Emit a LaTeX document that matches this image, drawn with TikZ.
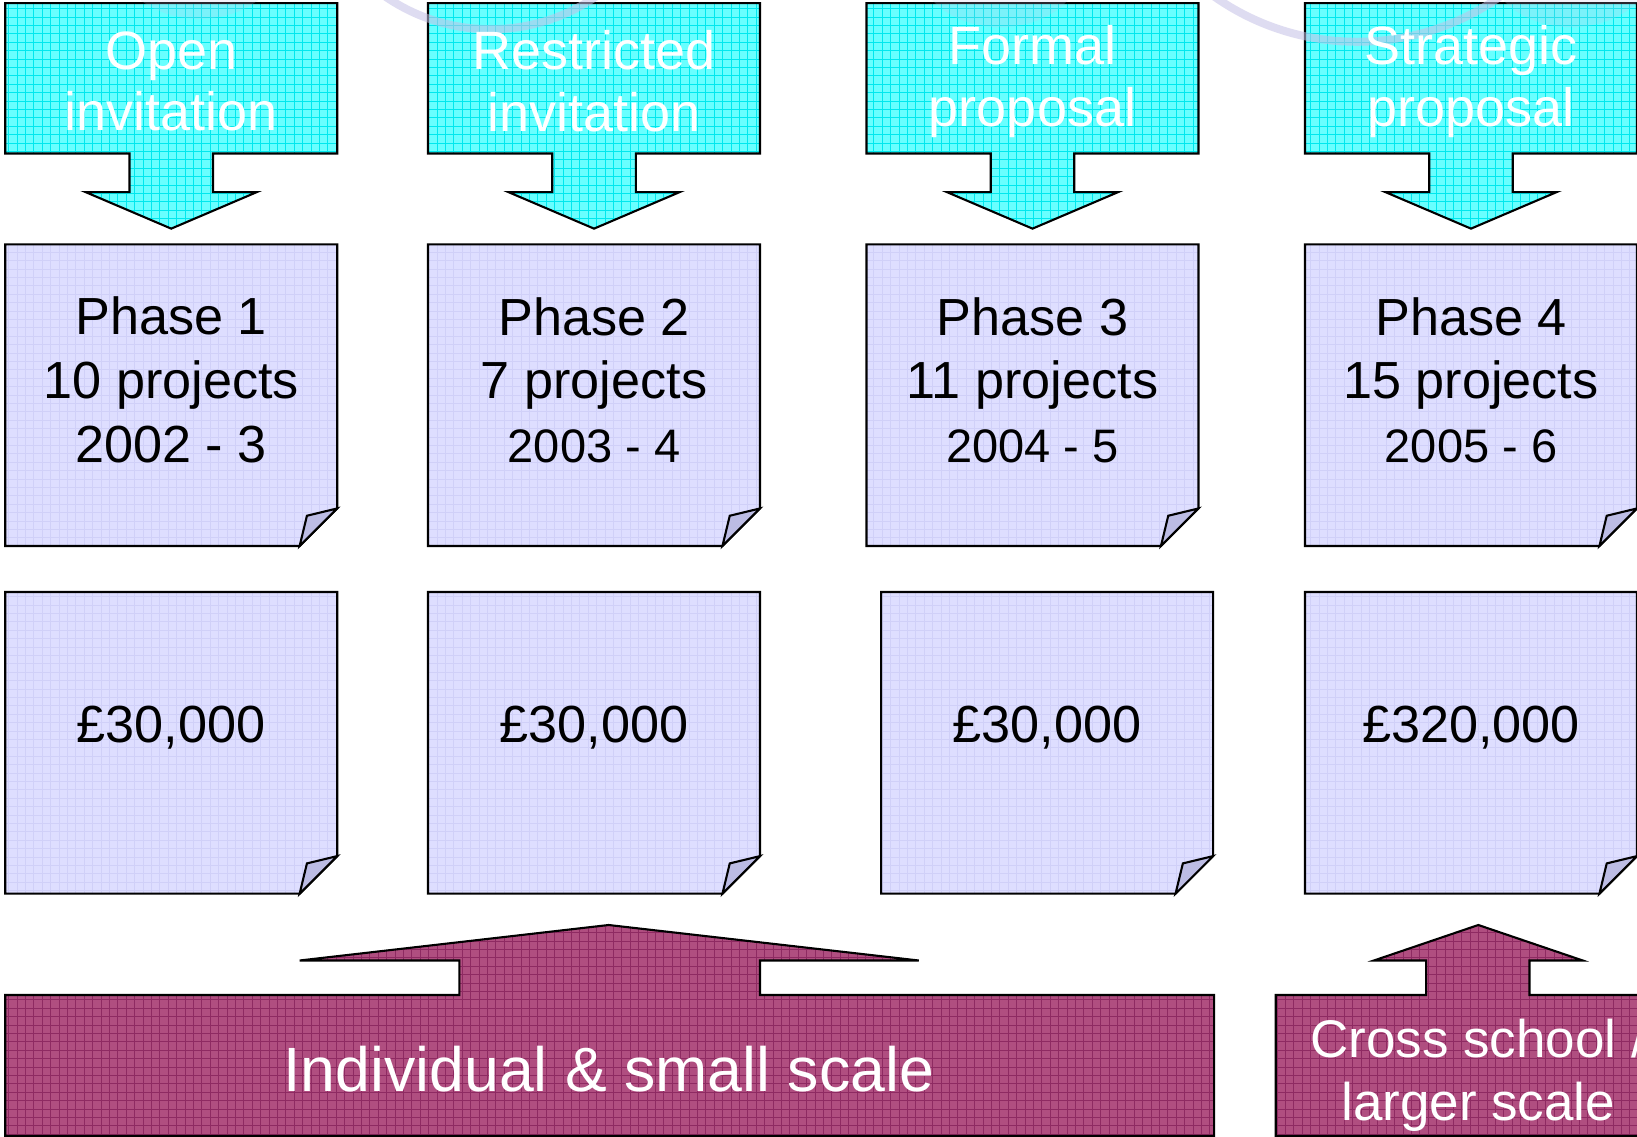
\documentclass[tikz,border=0pt]{standalone}
\usepackage{fontspec}
\setmainfont{Liberation Sans}
\definecolor{cyanfill}{RGB}{105,255,255}
\definecolor{cyangrid}{RGB}{0,232,238}
\definecolor{lavfill}{RGB}{222,222,255}
\definecolor{lavgrid}{RGB}{208,208,248}
\definecolor{lavfold}{RGB}{188,188,228}
\definecolor{magfill}{RGB}{176,78,128}
\definecolor{maggrid}{RGB}{142,42,98}
\definecolor{ringcol}{RGB}{196,192,230}
\newcommand{\dcallout}[1]{%
  \path[cyanshape] (#1-159,3) -- (#1+159,3) -- (#1+159,147) -- (#1+40,147) -- (#1+40,184) -- (#1+82,184) -- (#1,219) -- (#1-82,184) -- (#1-40,184) -- (#1-40,147) -- (#1-159,147) -- cycle;}
\newcommand{\phasebox}[3]{%
  \path[lavshape] (#1,#2) -- (#1+318,#2) -- (#1+318,#3-36) -- (#1+282,#3) -- (#1,#3) -- cycle;
  \path[foldshape] (#1+282,#3) -- (#1+289,#3-29) -- (#1+318,#3-36) -- cycle;}
\begin{document}
\begin{tikzpicture}[x=1.044pt,y=-1.044pt,
  outline/.style={draw=black,line width=2.1pt,line join=miter},
  cyanshape/.style={outline,fill=cyanfill,path picture={\draw[cyangrid,line width=0.6pt] (path picture bounding box.south west) grid[step=8.4pt] (path picture bounding box.north east);}},
  lavshape/.style={outline,fill=lavfill,path picture={\draw[lavgrid,line width=0.6pt] (path picture bounding box.south west) grid[step=8.4pt] (path picture bounding box.north east);}},
  foldshape/.style={outline,fill=lavfold},
  magshape/.style={outline,fill=magfill,path picture={\draw[maggrid,line width=0.6pt] (path picture bounding box.south west) grid[step=8.4pt] (path picture bounding box.north east);}},
  ring/.style={draw=ringcol,line width=8pt,opacity=0.55},
  ringfill/.style={fill=ringcol,opacity=0.2},
  toptext/.style={text=white,align=center,inner sep=0pt,font=\fontsize{54}{61.6}\selectfont},
  phasetext/.style={text=black,align=center,inner sep=0pt,font=\fontsize{52.2}{63.7}\selectfont},
  bottext/.style={text=white,align=center,inner sep=0pt,font=\fontsize{62.6}{70}\selectfont},
  crosstext/.style={text=white,align=center,inner sep=0pt,font=\fontsize{53}{62.6}\selectfont}
]
\useasboundingbox (0,0) rectangle (1568,1089);
\clip (0,0) rectangle (1568,1089);
\fill[white] (0,0) rectangle (1568,1089);
% top callouts
\dcallout{164}
\dcallout{569}
\dcallout{989}
\dcallout{1409}
% faint decorative rings
\path[ringfill] (191,-40) ellipse[x radius=78,y radius=58];
\path[ringfill] (958,-32) ellipse[x radius=78,y radius=58];
\path[ringfill] (1505,-32) ellipse[x radius=78,y radius=58];
\path[ring] (470,-150) circle[radius=178];
\path[ring] (1300,-198) circle[radius=238];
% phase boxes
\phasebox{5}{234}{523}
\phasebox{410}{234}{523}
\phasebox{830}{234}{523}
\phasebox{1250}{234}{523}
\phasebox{5}{567}{856}
\phasebox{410}{567}{856}
\phasebox{844}{567}{856}
\phasebox{1250}{567}{856}
% bottom up arrows
\path[magshape] (5,953) -- (440,953) -- (440,920) -- (287,920) -- (583,886) -- (880,920) -- (728,920) -- (728,953) -- (1163,953) -- (1163,1088) -- (5,1088) -- cycle;
\path[magshape] (1222,953) -- (1366,953) -- (1366,920) -- (1316,920) -- (1416,886) -- (1516,920) -- (1465,920) -- (1465,953) -- (1580,953) -- (1580,1088) -- (1222,1088) -- cycle;
% texts
\node[toptext] (t1) at (164,78) {Open\\invitation};
\node[toptext] (t2) at (569,78) {Restricted\\invitation};
\node[toptext] (t3) at (989,78) {Formal\\proposal};
\node[toptext] (t4) at (1409,78) {Strategic\\proposal};
\node[phasetext] (p1) at (164,364) {Phase 1\\10 projects\\2002 - 3};
\node[phasetext] (p2) at (569,364) {Phase 2\\7 projects\\{\fontsize{47}{58}\selectfont 2003 - 4}};
\node[phasetext] (p3) at (989,364) {Phase 3\\11 projects\\{\fontsize{47}{58}\selectfont 2004 - 5}};
\node[phasetext] (p4) at (1409,364) {Phase 4\\15 projects\\{\fontsize{47}{58}\selectfont 2005 - 6}};
\node[phasetext] (m1) at (164,697) {£30,000};
\node[phasetext] (m2) at (569,697) {£30,000};
\node[phasetext] (m3) at (1003,697) {£30,000};
\node[phasetext] (m4) at (1409,697) {£320,000};
\node[bottext] (b1) at (583,1024) {Individual \& small scale};
\node[crosstext] (b2) at (1416,1030) {Cross school /\\larger scale};
\end{tikzpicture}
\end{document}
